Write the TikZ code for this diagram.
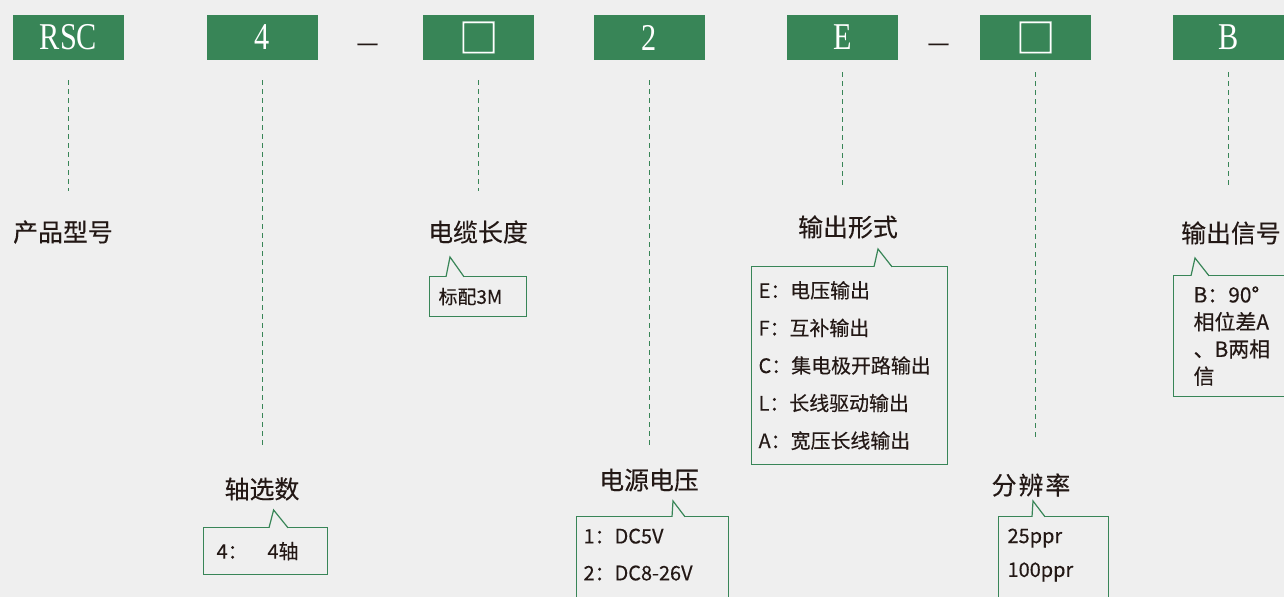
\documentclass[tikz,border=0pt]{standalone}
\usepackage{fontspec}
\newfontfamily\cjk[FakeBold=0.3]{Noto Sans CJK SC}
\newfontfamily\capfont[FakeStretch=0.8]{Liberation Serif}
\definecolor{bggray}{HTML}{EFEFEF}
\definecolor{codegreen}{HTML}{388557}
\definecolor{inkdark}{HTML}{231815}
\tikzset{
	codebox/.style={fill=codegreen, minimum width=111bp, minimum height=45bp, inner sep=0pt, text=white, font=\capfont\fontsize{38}{38}\selectfont},
	title/.style={inner sep=0pt, text=inkdark, font=\cjk\fontsize{25}{25}\selectfont},
	guide/.style={draw=codegreen, line width=1.3bp, dash pattern=on 5bp off 4bp},
	notebox/.style={draw=codegreen, line width=1.2bp, anchor=north west, align=left, inner ysep=0pt, text=inkdark},
	notetip/.style={draw=codegreen, line width=1.2bp, fill=bggray},
}
\begin{document}
\begin{tikzpicture}[x=1bp, y=-1bp]
	\fill[bggray] (0,0) rectangle (1284,597);
	\clip (0,0) rectangle (1284,597);
	% code row
	\node[codebox] (rsc) at (68.5,37.5) {RSC};
	\node[codebox] (axes) at (262.5,37.5) {4};
	\node[codebox, font=\cjk\fontsize{40}{40}\selectfont] (cable) at (478.5,37.5) {□};
	\node[codebox] (volt) at (649.5,37.5) {2};
	\node[codebox] (outp) at (842.5,37.5) {E};
	\node[codebox, font=\cjk\fontsize{40}{40}\selectfont] (res) at (1035.5,37.5) {□};
	\node[codebox] (sig) at (1228.5,37.5) {B};
	\node[title] (dasha) at (367.5,47.5) {—};
	\node[title] (dashb) at (938.5,47.5) {—};
	% titles
	\node[title] (prodl) at (63,232) {产品型号};
	\node[title] (cablel) at (478,232) {电缆长度};
	\node[title] (outpl) at (848,227) {输出形式};
	\node[title] (sigl) at (1231,233) {输出信号};
	\node[title] (axesl) at (262,489) {轴选数};
	\node[title] (voltl) at (649,480) {电源电压};
	\node[title, font=\cjk\fontsize{25}{25}\selectfont\addfontfeatures{LetterSpace=8}] (resl) at (1031,485) {分辨率};
	\foreach \a/\b/\s/\e in {rsc/prodl/20bp/29bp, axes/axesl/20bp/31bp, cable/cablel/20bp/29bp, volt/voltl/20bp/22bp, outp/outpl/12bp/30bp, res/resl/12bp/33bp, sig/sigl/12bp/36bp}
	{
		\draw[guide, shorten <=\s, shorten >=\e] (\a.south) -- (\a.south |- \b.north);
	}
	% option boxes
	\node[notebox, inner xsep=9bp, text width=79bp, minimum height=40bp, font=\cjk\fontsize{19}{19}\selectfont] (cablen) at (429,276) {标配3M};
	\node[notebox, inner xsep=7bp, text width=182bp, minimum height=198bp, font=\cjk\fontsize{20}{37.7}\selectfont] (outpn) at (751,266) {E：电压输出\\F：互补输出\\C：集电极开路输出\\L：长线驱动输出\\A：宽压长线输出};
	\node[notebox, inner xsep=20bp, text width=100bp, minimum height=121bp, font=\cjk\fontsize{21}{27.3}\selectfont] (sign) at (1173,275) {B：90°\\相位差A\\、B两相\\信};
	\node[notebox, inner xsep=13bp, text width=98bp, minimum height=47bp, font=\cjk\fontsize{20}{20}\selectfont] (axesn) at (203,527) {4：　4轴};
	\node[notebox, inner xsep=7bp, inner ysep=12bp, text width=138bp, text depth=60bp, font=\cjk\fontsize{20}{37}\selectfont] (voltn) at (576,516) {1：DC5V\\2：DC8-26V};
	\node[notebox, inner xsep=9bp, inner ysep=12bp, text width=92bp, text depth=60bp, font=\cjk\fontsize{20}{34}\selectfont] (resn) at (998,516) {25ppr\\100ppr};
	\foreach \n/\l/\t/\r/\h in {cablen/17/21/35/19, outpn/123/127/141/17, sign/18/22/36/17, axesn/66/70.6/85/17, voltn/96/97/109/15, resn/34/35/47/15}
	{
		\filldraw[notetip] ([xshift=\l bp, yshift=-0.8bp]\n.north west) -- ([xshift=\t bp, yshift=\h bp]\n.north west) -- ([xshift=\r bp, yshift=-0.8bp]\n.north west);
	}
\end{tikzpicture}
\end{document}
